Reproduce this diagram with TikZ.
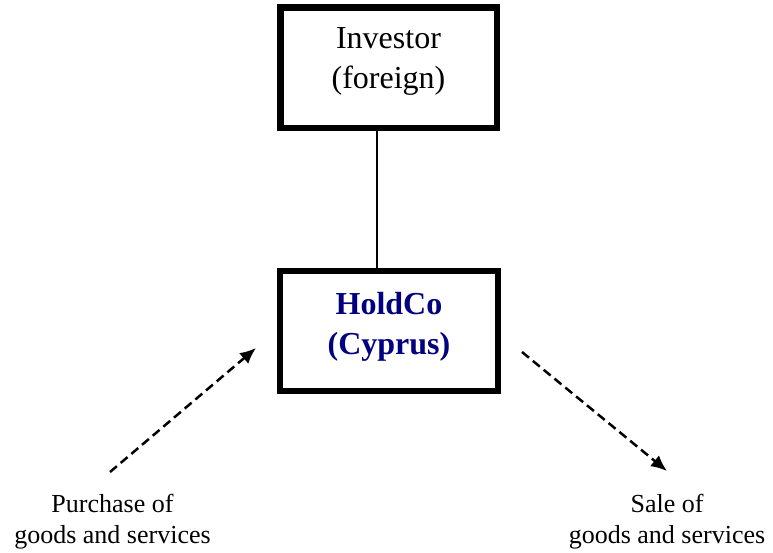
\documentclass[tikz,border=0pt]{standalone}
\usepackage{fontspec}
\setmainfont{Liberation Serif}
\usetikzlibrary{arrows.meta}
\definecolor{holdnavy}{RGB}{0,0,128}
\begin{document}
\begin{tikzpicture}[x=1pt,y=-1pt,
  thickbox/.style={draw=black,line width=6.5pt,fill=white,inner sep=0pt},
  boxtext/.style={inner sep=0pt,align=center,font=\fontsize{32}{40}\selectfont},
  holdtext/.style={inner sep=0pt,align=center,text=holdnavy,font=\fontsize{32}{40}\selectfont\bfseries},
  sidetext/.style={inner sep=0pt,align=center,font=\fontsize{26}{31}\selectfont},
  flow/.style={line width=2.5pt,dash pattern=on 9pt off 5pt,-{Latex[length=16pt,width=14pt]}}]
\useasboundingbox (0,0) rectangle (773,552);
\node[thickbox,minimum width=216.5pt,minimum height=120.5pt] (inv) at (388.75,67.75) {};
\node[thickbox,minimum width=218pt,minimum height=120pt] (hold) at (389,331) {};
\node[boxtext] (invtext) at (388.5,61) {Investor\\(foreign)};
\node[holdtext] (holdtxt) at (389,327) {HoldCo\\(Cyprus)};
\coordinate (linex) at (377,0);
\draw[line width=2pt] (inv.south -| linex) -- (hold.north -| linex);
\node[sidetext] (buy) at (112.5,521.5) {Purchase of\\goods and services};
\node[sidetext] (sell) at (667,521.5) {Sale of\\goods and services};
\coordinate (buytail) at (110,472);
\coordinate (buytip) at (256,348);
\coordinate (selltail) at (522,352);
\coordinate (selltip) at (667,471);
\draw[flow] (buytail) -- (buytip);
\draw[flow] (selltail) -- (selltip);
\end{tikzpicture}
\end{document}
